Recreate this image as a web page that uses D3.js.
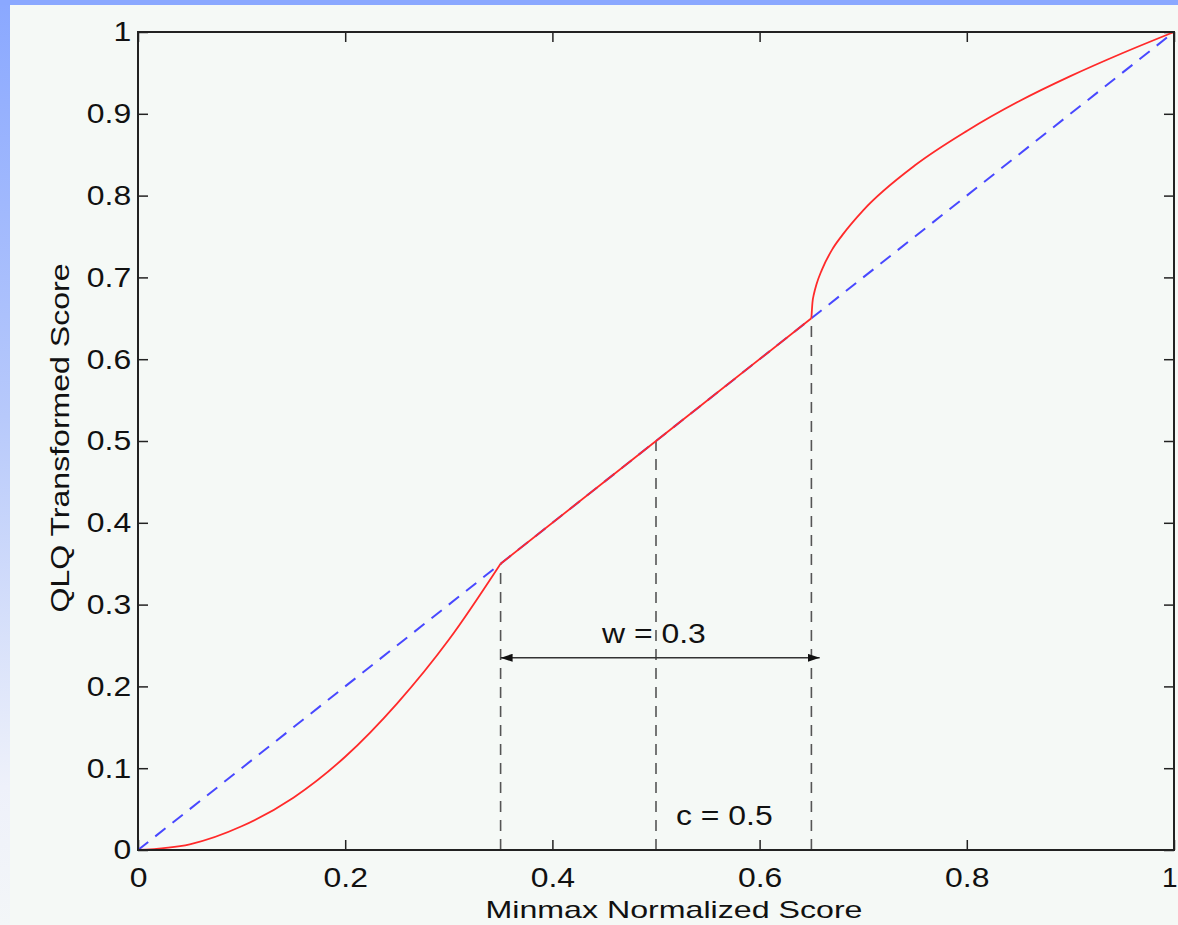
<!DOCTYPE html>
<html>
<head>
<meta charset="utf-8">
<script src="https://cdn.jsdelivr.net/npm/d3@7"></script>
<style>
    body { margin: 0; background: #f5f9f6; }
    text { font-family: "Liberation Sans", Arial, Helvetica, sans-serif; fill: #111; }
</style>
</head>
<body>
<script>
// values
const xTicks = [0, 0.2, 0.4, 0.6, 0.8, 1];
const yTicks = [0, 0.1, 0.2, 0.3, 0.4, 0.5, 0.6, 0.7, 0.8, 0.9, 1];
const diagX = [0, 1];
const diagY = [0, 1];
// red curve, in three pieces: quadratic start, straight middle, root-shaped end
const lowX = [0, 0.05, 0.1, 0.15, 0.2, 0.25, 0.3, 0.35];
const lowY = [0, 0.007, 0.029, 0.064, 0.114, 0.179, 0.257, 0.35];
const midX = [0.35, 0.5, 0.65];
const midY = [0.35, 0.5, 0.65];
const highX = [0.65, 0.651, 0.6525, 0.655, 0.66, 0.67, 0.68, 0.7, 0.75, 0.8, 0.85, 0.9, 0.95, 1];
const highY = [0.65, 0.669, 0.68, 0.692, 0.709, 0.734, 0.752, 0.782, 0.837, 0.879, 0.915, 0.946, 0.974, 1];
const guideX = [0.35, 0.5, 0.65];
const guideTop = [0.35, 0.5, 0.65];
const arrowSpan = [0.35, 0.658];
const arrowLevel = 0.235;
const notes = ['w = 0.3', 'c = 0.5'];
const noteX = [0.498, 0.566];
const noteY = [0.253, 0.031];

function draw() {
    const W = 1178, H = 925;
    const left = 138, right = 1174, top = 32, bottom = 850;
    const stretch = 1.14;

    const svg = d3.select('body')
        .append('svg')
        .attr('width', W)
        .attr('height', H);

    const defs = svg.append('defs');
    const grad = defs.append('linearGradient')
        .attr('id', 'edge')
        .attr('x1', 0).attr('y1', 0).attr('x2', 0).attr('y2', 1);
    grad.append('stop').attr('offset', '0%').attr('stop-color', '#8aa8ff');
    grad.append('stop').attr('offset', '45%').attr('stop-color', '#b7c9fb');
    grad.append('stop').attr('offset', '85%').attr('stop-color', '#eef1fa');
    grad.append('stop').attr('offset', '100%').attr('stop-color', '#f3f6f8');

    defs.append('marker')
        .attr('id', 'head')
        .attr('viewBox', '0 0 12 8')
        .attr('refX', 12).attr('refY', 4)
        .attr('markerWidth', 12).attr('markerHeight', 8)
        .attr('markerUnits', 'userSpaceOnUse')
        .attr('orient', 'auto-start-reverse')
        .append('path')
        .attr('d', 'M0,0L12,4L0,8Z')
        .attr('fill', '#111');

    svg.append('rect').attr('width', W).attr('height', H).attr('fill', '#f5f9f6');
    svg.append('rect').attr('width', 10).attr('height', H).attr('fill', 'url(#edge)');
    svg.append('rect').attr('width', W).attr('height', 5).attr('fill', '#8aa8ff');

    const x = d3.scaleLinear().domain([0, 1]).range([left, right]);
    const y = d3.scaleLinear().domain([0, 1]).range([bottom, top]);

    function styleAxis(g) {
        g.select('.domain').remove();
        g.selectAll('line').attr('stroke', '#222').attr('stroke-width', 1.5);
        g.selectAll('text')
            .attr('font-size', 28)
            .attr('fill', '#111')
            .attr('transform', 'scale(' + stretch + ',1)');
    }

    const xAxis = svg.append('g')
        .attr('transform', 'translate(0,' + bottom + ')')
        .call(d3.axisBottom(x).tickValues(xTicks).tickFormat(d3.format('')).tickSize(-10).tickPadding(17))
        .call(styleAxis);
    // last label sits against the right edge
    xAxis.selectAll('.tick text')
        .filter(d => d === 1)
        .attr('text-anchor', 'end')
        .attr('transform', null)
        .attr('x', 3);

    svg.append('g')
        .attr('transform', 'translate(0,' + top + ')')
        .call(d3.axisTop(x).tickValues(xTicks).tickFormat('').tickSize(-10))
        .call(styleAxis);
    svg.append('g')
        .attr('transform', 'translate(' + left + ',0)')
        .call(d3.axisLeft(y).tickValues(yTicks).tickFormat(d3.format('')).tickSize(-10).tickPadding(6))
        .call(styleAxis);
    svg.append('g')
        .attr('transform', 'translate(' + right + ',0)')
        .call(d3.axisRight(y).tickValues(yTicks).tickFormat('').tickSize(-10))
        .call(styleAxis);

    // dashed guides
    svg.append('g')
        .selectAll('line')
        .data(guideX)
        .enter()
        .append('line')
        .attr('x1', d => x(d))
        .attr('x2', d => x(d))
        .attr('y1', y(0))
        .attr('y2', (d, i) => y(guideTop[i]))
        .attr('stroke', '#555')
        .attr('stroke-width', 1.6)
        .attr('stroke-dasharray', '11,8');

    const pairs = (xs, ys) => xs.map((d, i) => [d, ys[i]]);
    const line = d3.line()
        .x(d => x(d[0]))
        .y(d => y(d[1]));

    svg.append('path')
        .datum(pairs(diagX, diagY))
        .attr('d', line)
        .attr('fill', 'none')
        .attr('stroke', '#4848ff')
        .attr('stroke-width', 2)
        .attr('stroke-dasharray', '13,9');

    const curved = d3.line()
        .x(d => x(d[0]))
        .y(d => y(d[1]))
        .curve(d3.curveMonotoneX);

    [pairs(lowX, lowY), pairs(midX, midY), pairs(highX, highY)].forEach(seg => {
        svg.append('path')
            .datum(seg)
            .attr('d', curved)
            .attr('fill', 'none')
            .attr('stroke', '#ff2a2a')
            .attr('stroke-width', 1.8);
    });

    // width arrow
    svg.append('line')
        .attr('x1', x(arrowSpan[0]))
        .attr('x2', x(arrowSpan[1]))
        .attr('y1', y(arrowLevel))
        .attr('y2', y(arrowLevel))
        .attr('stroke', '#333')
        .attr('stroke-width', 1.5)
        .attr('marker-start', 'url(#head)')
        .attr('marker-end', 'url(#head)');

    svg.append('g')
        .selectAll('text')
        .data(notes)
        .enter()
        .append('text')
        .attr('transform', (d, i) => 'translate(' + x(noteX[i]) + ',' + y(noteY[i]) + ') scale(' + stretch + ',1)')
        .attr('text-anchor', 'middle')
        .attr('font-size', 28)
        .text(d => d);

    svg.append('text')
        .attr('x', (x(0) + x(1)) / 2 + 18)
        .attr('y', 918)
        .attr('text-anchor', 'middle')
        .attr('font-size', 24)
        .attr('textLength', 377)
        .attr('lengthAdjust', 'spacingAndGlyphs')
        .text('Minmax Normalized Score');

    svg.append('text')
        .attr('transform', 'translate(69,438) rotate(-90)')
        .attr('text-anchor', 'middle')
        .attr('font-size', 25)
        .attr('textLength', 349)
        .attr('lengthAdjust', 'spacingAndGlyphs')
        .text('QLQ Transformed Score');

    // plot box
    svg.append('rect')
        .attr('x', left)
        .attr('y', top)
        .attr('width', right - left)
        .attr('height', bottom - top)
        .attr('fill', 'none')
        .attr('stroke', '#222')
        .attr('stroke-width', 2);
}

draw();
</script>
</body>
</html>
